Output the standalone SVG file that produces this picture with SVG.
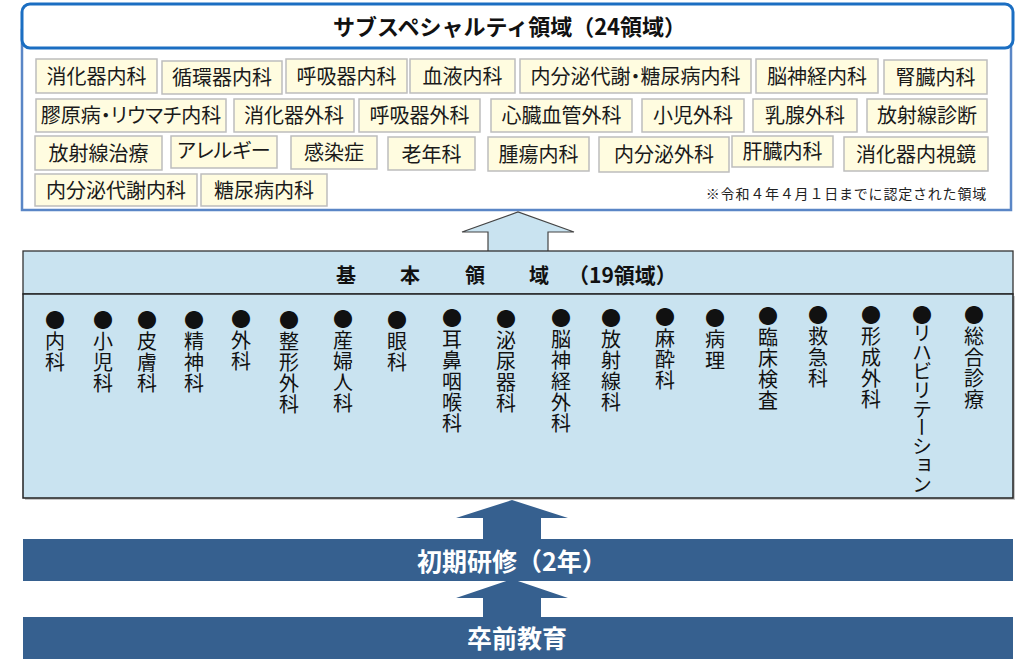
<svg xmlns="http://www.w3.org/2000/svg" width="1032" height="669" viewBox="0 0 1032 669">
<style>
.jp{font-family:"Noto Sans CJK JP","Noto Sans",sans-serif}
.sb rect{fill:#FFFCE0;stroke:#BDBDBD;stroke-width:1.5}
.sb text{font-family:"Noto Sans CJK JP",sans-serif;font-size:20px;text-anchor:middle;fill:#1a1a1a}
.palt{font-feature-settings:"palt" 1}
.vt{font-family:"Noto Sans CJK JP",sans-serif;font-size:20px;fill:#111;writing-mode:vertical-rl;letter-spacing:1px}
.bar{fill:#36608F}
.wt{font-family:"Noto Sans CJK JP",sans-serif;font-weight:bold;font-size:25px;fill:#fff;text-anchor:middle}
</style>
<rect width="1032" height="669" fill="#fff"/>

<g id="subspecialty">
  <rect x="22" y="30" width="989" height="180" fill="#fff" stroke="#5A86C6" stroke-width="2.5"/>
  <rect x="22" y="4" width="991" height="44" rx="8" fill="#fff" stroke="#1B6EC2" stroke-width="3"/>
  <text class="jp" x="333" y="35" font-size="22" font-weight="bold" fill="#111">サブスペシャルティ領域（24領域）</text>
  <text class="jp" x="987" y="199" font-size="14" letter-spacing="0.8" text-anchor="end" fill="#222">※令和４年４月１日までに認定された領域</text>
</g>

<g id="sub-boxes" class="sb">
  <g id="s1"><rect x="36" y="59" width="121" height="34"/><text x="96.5" y="83.6">消化器内科</text></g>
  <g id="s2"><rect x="162" y="61" width="120" height="33"/><text x="222" y="85.1">循環器内科</text></g>
  <g id="s3"><rect x="286" y="59" width="121" height="34"/><text x="346.5" y="83.6">呼吸器内科</text></g>
  <g id="s4"><rect x="410" y="59" width="105" height="34"/><text x="462.5" y="83.6">血液内科</text></g>
  <g id="s5"><rect x="520" y="59" width="231" height="34"/><text class="palt" x="635.5" y="83.6">内分泌代謝・糖尿病内科</text></g>
  <g id="s6"><rect x="756" y="59" width="122" height="34"/><text x="817" y="83.6">脳神経内科</text></g>
  <g id="s7"><rect x="884" y="60" width="103" height="34"/><text x="935.5" y="84.6">腎臓内科</text></g>

  <g id="s8"><rect x="36" y="99" width="190" height="33"/><text class="palt" x="131" y="123.1">膠原病・リウマチ内科</text></g>
  <g id="s9"><rect x="234" y="99" width="120" height="33"/><text x="294" y="123.1">消化器外科</text></g>
  <g id="s10"><rect x="359" y="99" width="121" height="33"/><text x="419.5" y="123.1">呼吸器外科</text></g>
  <g id="s11"><rect x="491" y="99" width="141" height="33"/><text x="561.5" y="123.1">心臓血管外科</text></g>
  <g id="s12"><rect x="642" y="99" width="102" height="33"/><text x="693" y="123.1">小児外科</text></g>
  <g id="s13"><rect x="753" y="99" width="104" height="33"/><text x="805" y="123.1">乳腺外科</text></g>
  <g id="s14"><rect x="867" y="99" width="120" height="33"/><text x="927" y="123.1">放射線診断</text></g>

  <g id="s15"><rect x="35" y="136" width="127" height="34"/><text x="98.5" y="160.6">放射線治療</text></g>
  <g id="s16"><rect x="171" y="136" width="106" height="32"/><text class="palt" x="224" y="158">アレルギー</text></g>
  <g id="s17"><rect x="291" y="136" width="86" height="33"/><text x="334" y="159.6">感染症</text></g>
  <g id="s18"><rect x="388" y="137" width="87" height="33"/><text x="431.5" y="161.6">老年科</text></g>
  <g id="s19"><rect x="488" y="137" width="101" height="34"/><text x="538.5" y="161.6">腫瘍内科</text></g>
  <g id="s20"><rect x="599" y="137" width="130" height="35"/><text x="664" y="162.1">内分泌外科</text></g>
  <g id="s21"><rect x="732" y="136" width="101" height="31"/><text x="782.5" y="159">肝臓内科</text></g>
  <g id="s22"><rect x="844" y="137" width="144" height="34"/><text x="916" y="161.6">消化器内視鏡</text></g>

  <g id="s23"><rect x="35" y="174" width="162" height="32"/><text x="116" y="197.6">内分泌代謝内科</text></g>
  <g id="s24"><rect x="201" y="174" width="126" height="32"/><text x="264" y="197.6">糖尿病内科</text></g>
</g>

<g id="connectors">
  <polygon points="518,212 574,232 548,232 548,252 488,252 488,232 462,232" fill="#C9E3F0"/>
  <polyline points="488,252 488,232 462,232 518,212 574,232 548,232 548,252" fill="none" stroke="#444" stroke-width="1.2"/>
  <polygon points="512,500 568,518 541,518 541,540 483,540 483,518 456,518" fill="#36608F"/>
  <polygon points="512,579 568,598 541,598 541,618 483,618 483,598 456,598" fill="#36608F"/>
</g>

<g id="basic-header">
  <rect x="23" y="251" width="990" height="43" fill="#C9E3F0" stroke="#333" stroke-width="1.3"/>
  <g class="jp" font-size="20" font-weight="bold" fill="#111" text-anchor="middle">
    <text x="346" y="283">基</text>
    <text x="410" y="283">本</text>
    <text x="475" y="283">領</text>
    <text x="539" y="283">域</text>
  </g>
  <text class="jp" x="568" y="283" font-size="21" font-weight="bold" fill="#111">（19領域）</text>
</g>

<g id="basic-body">
  <rect x="25" y="296" width="990" height="204" fill="#C8C8C8"/>
  <rect x="23" y="294" width="990" height="204" fill="#C9E3F0" stroke="#222" stroke-width="1.5"/>
  <text class="vt" x="55" y="310">●内科</text>
  <text class="vt" x="103" y="310">●小児科</text>
  <text class="vt" x="147" y="310">●皮膚科</text>
  <text class="vt" x="194" y="310">●精神科</text>
  <text class="vt" x="241" y="309">●外科</text>
  <text class="vt" x="289" y="310">●整形外科</text>
  <text class="vt" x="343" y="309">●産婦人科</text>
  <text class="vt" x="397" y="310">●眼科</text>
  <text class="vt" x="452" y="308">●耳鼻咽喉科</text>
  <text class="vt" x="506" y="309">●泌尿器科</text>
  <text class="vt" x="561" y="308">●脳神経外科</text>
  <text class="vt" x="611" y="308">●放射線科</text>
  <text class="vt" x="665" y="307">●麻酔科</text>
  <text class="vt" x="715" y="308">●病理</text>
  <text class="vt" x="768" y="306">●臨床検査</text>
  <text class="vt" x="818" y="305">●救急科</text>
  <text class="vt" x="871" y="305">●形成外科</text>
  <text class="vt" x="922" y="305" style="letter-spacing:-1.2px">●リハビリテーション</text>
  <text class="vt" x="974" y="305">●総合診療</text>
</g>

<g id="initial-training">
  <rect class="bar" x="23" y="539" width="990" height="42"/>
  <text class="wt" x="512" y="571">初期研修（2年）</text>
</g>

<g id="undergraduate">
  <rect class="bar" x="23" y="617" width="990" height="42"/>
  <text class="wt" x="517" y="648">卒前教育</text>
</g>
</svg>
